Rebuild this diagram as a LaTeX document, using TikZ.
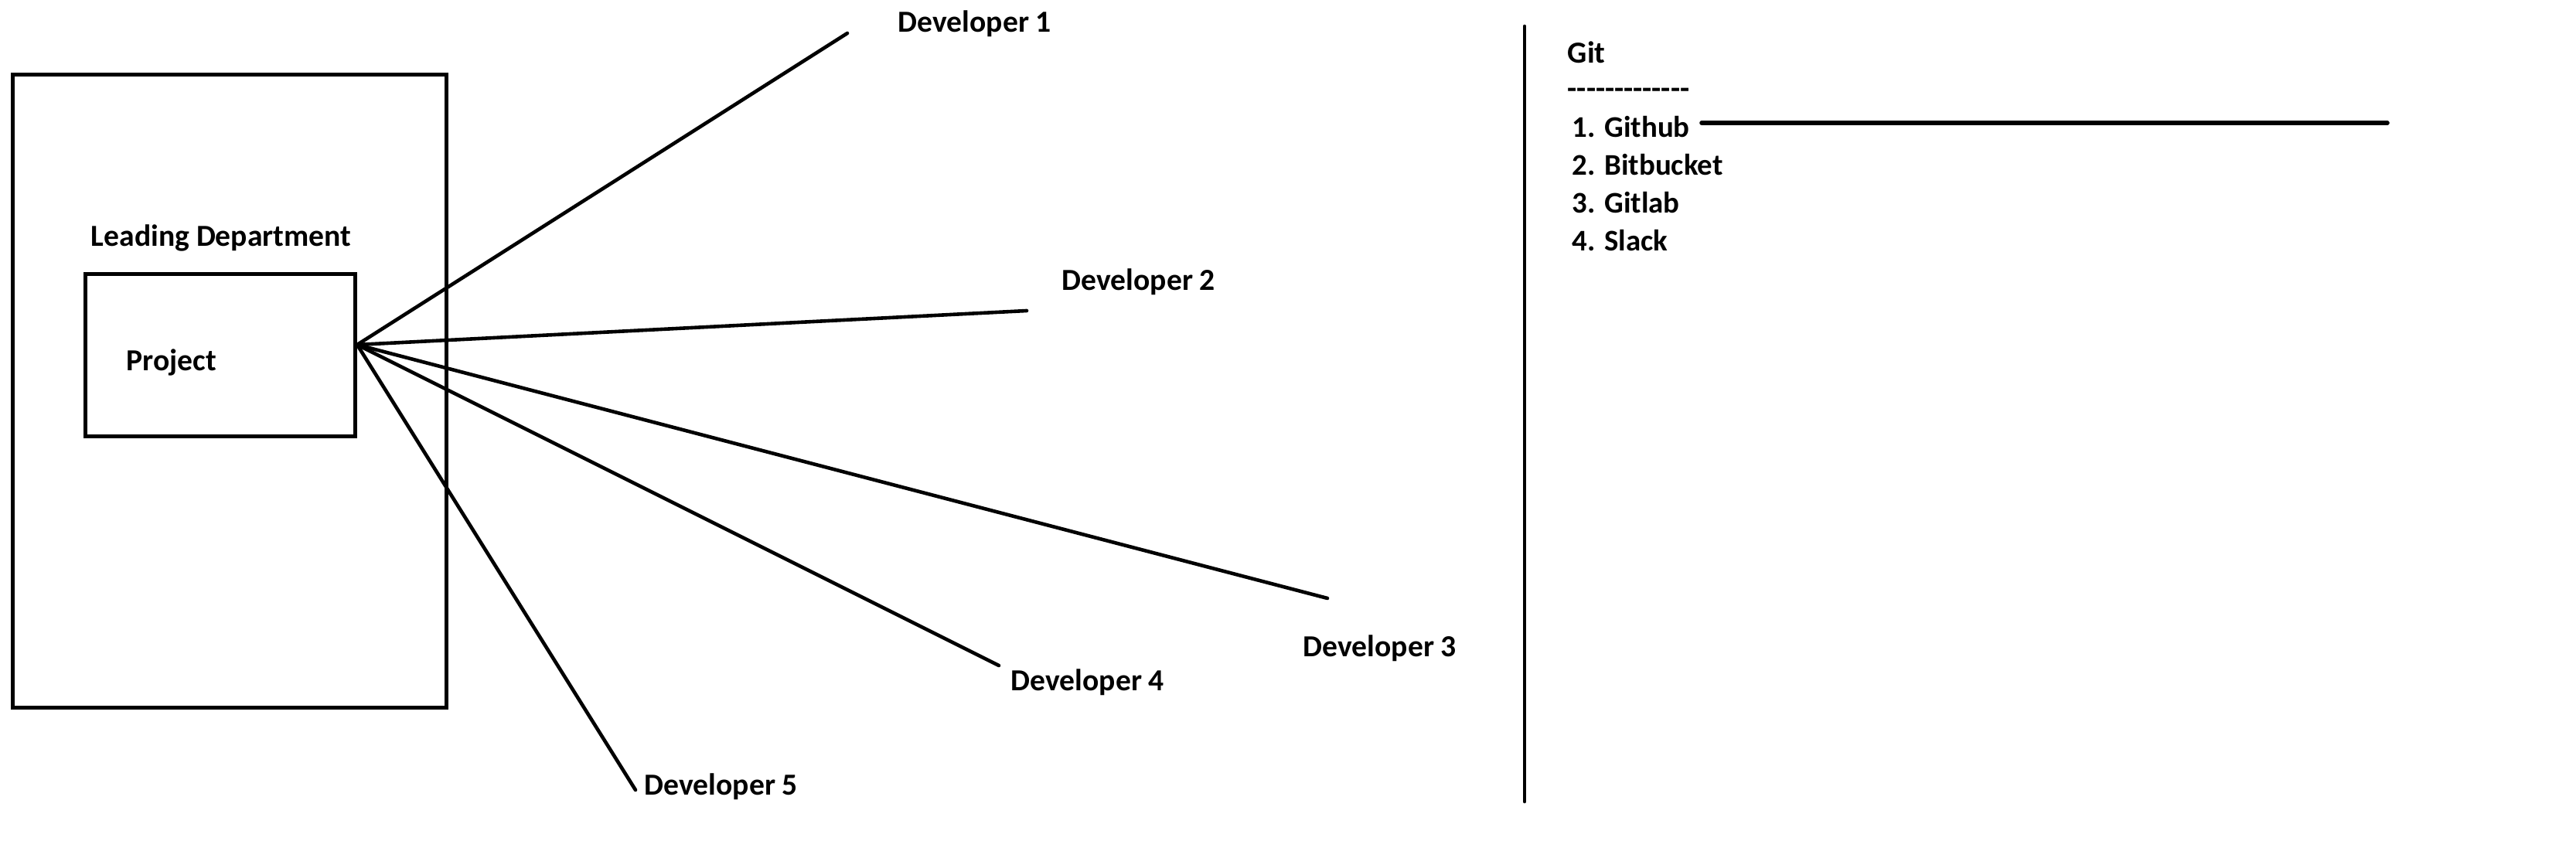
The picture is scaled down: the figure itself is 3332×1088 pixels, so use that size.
\documentclass[tikz,border=0pt]{standalone}
\usepackage{fontspec}
\setmainfont{Carlito}
\begin{document}
\begin{tikzpicture}[x=0.25pt,y=-0.25pt,
  box/.style={draw,line width=1.25pt},
  link/.style={draw,line width=1.15pt,line cap=round},
  lbl/.style={anchor=base west,inner sep=0pt,font=\fontsize{9.9pt}{11pt}\selectfont\bfseries},
  item/.style={lbl,font=\fontsize{9.7pt}{11pt}\selectfont\bfseries}]
\useasboundingbox (0,0) rectangle (3332,1088);
\draw[box] (16,97) rectangle (577,916);
\draw[box] (110,355) rectangle (459,565);
\node[lbl] (lead) at (117,319) {Leading Department};
\node[lbl] (proj) at (163,480) {Project};
\coordinate (hub) at (462,446);
\coordinate (e1) at (1096,43);
\coordinate (e2) at (1328,402);
\coordinate (e3) at (1717,774);
\coordinate (e4) at (1292,861);
\coordinate (e5) at (822,1022);
\node[lbl] (d1) at (1161,42) {Developer 1};
\node[lbl] (d2) at (1373,376) {Developer 2};
\node[lbl] (d3) at (1685,850) {Developer 3};
\node[lbl] (d4) at (1307,894) {Developer 4};
\node[lbl] (d5) at (833,1029) {Developer 5};
\draw[link] (hub) -- (e1);
\draw[link] (hub) -- (e2);
\draw[link] (hub) -- (e3);
\draw[link] (hub) -- (e4);
\draw[link] (hub) -- (e5);
\coordinate (vt) at (1972,34);
\coordinate (vb) at (1972,1037);
\draw[link] (vt) -- (vb);
\node[lbl] (git) at (2027,82) {Git};
\node[lbl] (dash) at (2027,128) {-{}-{}-{}-{}-{}-{}-{}-{}-{}-{}-{}-{}-};
\node[item] (l1) at (2033,178) {1. Github};
\node[item] (l2) at (2033,227) {2. Bitbucket};
\node[item] (l3) at (2033,276) {3. Gitlab};
\node[item] (l4) at (2033,325) {4. Slack};
\coordinate (g1) at (2201,159);
\coordinate (g2) at (3088,159);
\draw[link,line width=1.4pt] (g1) -- (g2);
\end{tikzpicture}
\end{document}
